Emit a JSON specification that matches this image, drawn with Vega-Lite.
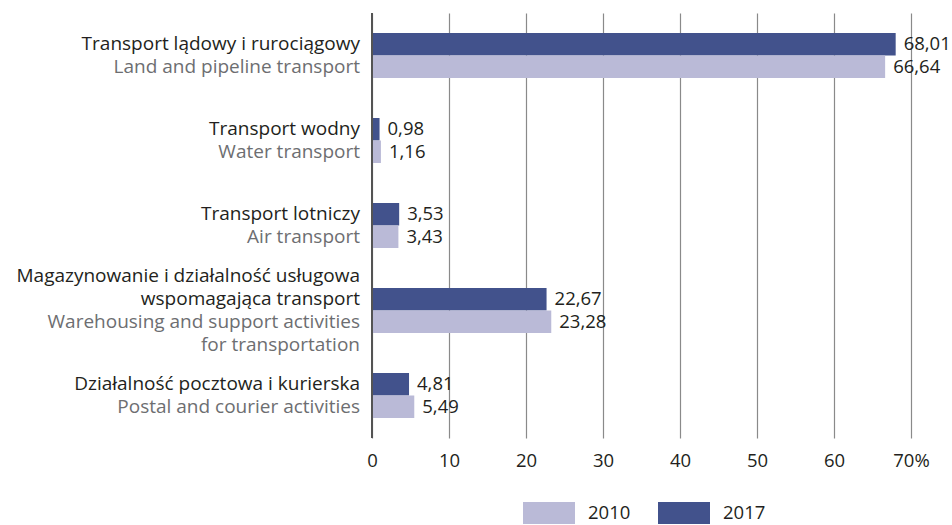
{
  "$schema": "https://vega.github.io/schema/vega-lite/v6.json",
  "width": 539,
  "height": 425,
  "autosize": {"type": "none"},
  "padding": {"left": 372, "top": 13, "right": 41, "bottom": 87},
  "background": "white",
  "config": {
    "view": {"stroke": null},
    "font": "Open Sans",
    "locale": {"number": {"decimal": ",", "thousands": " ", "grouping": [3], "currency": ["", " zł"]}}
  },
  "datasets": {
    "vals": [
      {"cat": "land", "year": "2017", "value": 68.01},
      {"cat": "land", "year": "2010", "value": 66.64},
      {"cat": "water", "year": "2017", "value": 0.98},
      {"cat": "water", "year": "2010", "value": 1.16},
      {"cat": "air", "year": "2017", "value": 3.53},
      {"cat": "air", "year": "2010", "value": 3.43},
      {"cat": "ware", "year": "2017", "value": 22.67},
      {"cat": "ware", "year": "2010", "value": 23.28},
      {"cat": "post", "year": "2017", "value": 4.81},
      {"cat": "post", "year": "2010", "value": 5.49}
    ],
    "labels": [
      {"cat": "land", "pl": ["Transport lądowy i rurociągowy"], "en": ["Land and pipeline transport"]},
      {"cat": "water", "pl": ["Transport wodny"], "en": ["Water transport"]},
      {"cat": "air", "pl": ["Transport lotniczy"], "en": ["Air transport"]},
      {"cat": "ware", "pl": ["Magazynowanie i działalność usługowa", "wspomagająca transport"], "en": ["Warehousing and support activities", "for transportation"]},
      {"cat": "post", "pl": ["Działalność pocztowa i kurierska"], "en": ["Postal and courier activities"]}
    ]
  },
  "layer": [
    {
      "data": {"name": "vals"},
      "mark": {"type": "bar"},
      "encoding": {
        "y": {"field": "cat", "type": "nominal", "sort": null, "axis": null,
              "scale": {"domain": ["land", "water", "air", "ware", "post"], "paddingInner": 0.47, "paddingOuter": 0.235}},
        "yOffset": {"field": "year", "type": "nominal", "scale": {"domain": ["2017", "2010"], "paddingInner": 0, "paddingOuter": 0}},
        "x": {"field": "value", "type": "quantitative",
              "scale": {"domain": [0, 70], "nice": false},
              "axis": {"values": [0, 10, 20, 30, 40, 50, 60, 70], "title": null, "domain": false, "ticks": false,
                       "grid": true, "gridColor": "#8a8a8a", "gridWidth": 1.2, "gridOpacity": 1,
                       "labelFontSize": 18.5, "labelColor": "#231f20", "labelPadding": 13, "labelFlush": false,
                       "labelExpr": "datum.value == 70 ? '70%' : datum.label"}},
        "color": {"field": "year", "type": "nominal",
                  "scale": {"domain": ["2010", "2017"], "range": ["#babad7", "#42528c"]},
                  "legend": {"title": null, "orient": "none", "direction": "horizontal",
                             "legendX": 151, "legendY": 474,
                             "symbolType": "M-1,-0.42L1,-0.42L1,0.42L-1,0.42Z", "symbolSize": 2704,
                             "symbolStrokeWidth": 0, "symbolOpacity": 1,
                             "labelFontSize": 18.5, "labelColor": "#231f20", "labelOffset": 13,
                             "columnPadding": 27}}
      }
    },
    {
      "data": {"name": "vals"},
      "mark": {"type": "rule", "color": "#555555", "strokeWidth": 1.5},
      "encoding": {"x": {"datum": 0}}
    },
    {
      "data": {"name": "vals"},
      "mark": {"type": "text", "align": "left", "baseline": "middle", "dx": 8, "fontSize": 18.5, "color": "#231f20"},
      "encoding": {
        "y": {"field": "cat", "type": "nominal", "sort": null},
        "yOffset": {"field": "year", "type": "nominal"},
        "x": {"field": "value", "type": "quantitative"},
        "text": {"field": "value", "type": "quantitative", "format": ".2f"}
      }
    },
    {
      "data": {"name": "labels"},
      "transform": [{"filter": "datum.cat != 'ware'"}],
      "mark": {"type": "text", "align": "right", "baseline": "middle", "dx": -12, "dy": -11.5, "fontSize": 19, "lineHeight": 23, "color": "#231f20"},
      "encoding": {
        "y": {"field": "cat", "type": "nominal", "sort": null},
        "x": {"datum": 0},
        "text": {"field": "pl"}
      }
    },
    {
      "data": {"name": "labels"},
      "transform": [{"filter": "datum.cat == 'ware'"}],
      "mark": {"type": "text", "align": "right", "baseline": "middle", "dx": -12, "dy": -34.5, "fontSize": 19, "lineHeight": 23, "color": "#231f20"},
      "encoding": {
        "y": {"field": "cat", "type": "nominal", "sort": null},
        "x": {"datum": 0},
        "text": {"field": "pl"}
      }
    },
    {
      "data": {"name": "labels"},
      "mark": {"type": "text", "align": "right", "baseline": "middle", "dx": -12, "dy": 11.5, "fontSize": 19, "lineHeight": 23, "color": "#6d6e71"},
      "encoding": {
        "y": {"field": "cat", "type": "nominal", "sort": null},
        "x": {"datum": 0},
        "text": {"field": "en"}
      }
    }
  ]
}
